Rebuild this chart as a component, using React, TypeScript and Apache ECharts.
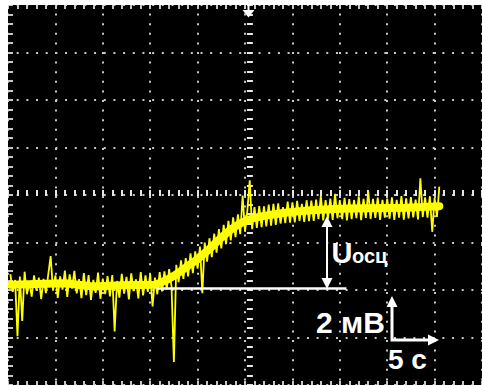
import React, { useEffect, useRef } from "react";
import * as echarts from "echarts";

// Oscilloscope screen: 10 horizontal divisions of 5 s, 8 vertical divisions of 2 mV
const timeMin = 0;
const timeMax = 50;
const timeInterval = 5;
const voltMin = -8;
const voltMax = 8;
const voltInterval = 2;

// Smoothed core of the yellow trace (s, mV)
const trendTimes = [0.3, 3, 6, 9, 12, 15.5, 16, 16.5, 17, 17.5, 18, 18.5, 19, 19.5, 20, 20.5, 21, 21.5, 22, 22.5, 23, 23.5, 24, 24.5, 25, 25.5, 26, 27, 28, 29, 30, 32, 34, 36, 38, 40, 42, 44, 45.5];
const trendValues = [-3.78, -3.75, -3.72, -3.85, -3.8, -3.78, -3.7, -3.62, -3.52, -3.4, -3.27, -3.13, -2.98, -2.84, -2.7, -2.53, -2.36, -2.17, -1.98, -1.8, -1.62, -1.46, -1.32, -1.2, -1.1, -1.02, -0.96, -0.88, -0.82, -0.76, -0.71, -0.64, -0.6, -0.57, -0.56, -0.55, -0.54, -0.5, -0.47];

// Raw noisy samples, one every 0.25 s starting at 0.25 s (mV)
const sampleStep = 0.25;
const traceValues = [
  -3.33, -4.08, -3.58, -5.95, -3.43, -5.3, -3.23, -4.18,
  -3.68, -4.28, -3.38, -4.03, -3.48, -4.38, -3.53, -4.13,
  -3.33, -2.57, -4.03, -3.38, -4.33, -3.43, -3.98, -3.18,
  -4.29, -3.34, -3.94, -3.19, -4.14, -3.54, -4.34, -3.29,
  -4.22, -3.37, -4.42, -3.57, -4.12, -3.27, -4.37, -3.52,
  -4.17, -3.42, -4.27, -3.37, -5.75, -3.62, -4.32, -3.32,
  -4.15, -3.45, -4.4, -3.3, -4.05, -3.55, -4.35, -3.25,
  -4.23, -3.38, -4.08, -3.33, -4.69, -3.48, -4.18, -3.25,
  -4.06, -3.22, -3.97, -3.12, -3.86, -7.03, -2.94, -3.67,
  -2.75, -3.53, -2.66, -3.43, -2.46, -3.29, -2.37, -3.1,
  -2.17, -4.14, -2.0, -2.81, -1.82, -2.62, -1.63, -2.43,
  -1.44, -2.25, -1.26, -2.07, -1.09, -1.91, -0.94, -1.77,
  -0.81, -1.65, -0.02, -1.55, -0.66, 0.62, -1.44, -0.51,
  -1.39, -0.47, -1.35, -0.48, -1.32, -0.4, -1.29, -0.37,
  -1.26, -0.35, -1.2, -0.51, -1.18, -0.28, -1.16, -0.31,
  -1.15, -0.25, -1.09, -0.37, -1.13, -0.22, -1.1, -0.24,
  -1.09, -0.19, -1.02, -0.05, -1.07, -0.22, -1.0, -0.15,
  -1.05, 0.05, -0.98, -0.22, -1.02, -0.12, -1.07, -0.17,
  -1.02, -0.21, -0.97, -0.06, -1.06, -0.16, -0.96, 0.15,
  -1.01, -0.16, -0.96, -0.11, -1.05, -0.2, -0.95, -0.15,
  -1.0, -0.1, -1.05, -0.2, -0.95, -0.05, -1.04, -0.14,
  -0.99, -0.09, -0.94, -0.19, -1.03, 0.7, -0.92, -0.1,
  -0.95, -0.05, -1.55, -0.12, -0.92, 0.35,
];

// Reference level line (baseline) and its extent
const baselineLevel = -3.92;
const baselineStart = 15.65;
const baselineEnd = 35.7;

const texts = { u: "U", sub: "осц", volt: "2 мВ", time: "5 с" };

const CHART_X = 8;
const CHART_Y = 5;
const p = (x: number, y: number) => [x - CHART_X, y - CHART_Y];

const FONT = '"Liberation Sans", Arial, sans-serif';
const WHITE = "#ffffff";
const DOT = "#c8c8c8";
const TICK = "#e6e6e6";

function seg(x1: number, y1: number, x2: number, y2: number, w: number) {
  const a = p(x1, y1);
  const b = p(x2, y2);
  return { type: "line", z: 100, silent: true, shape: { x1: a[0], y1: a[1], x2: b[0], y2: b[1] }, style: { stroke: WHITE, lineWidth: w } };
}
function tri(pts: number[][]) {
  return { type: "polygon", z: 100, silent: true, shape: { points: pts.map((q) => p(q[0], q[1])) }, style: { fill: WHITE } };
}
function txt(s: string, x: number, y: number, size: number) {
  const a = p(x, y);
  return {
    type: "text", z: 100, silent: true, x: a[0], y: a[1],
    style: { text: s, fill: WHITE, fontSize: size, fontWeight: "bold", fontFamily: FONT, align: "left", verticalAlign: "middle" },
  };
}

export default function App() {
  const ref = useRef<HTMLDivElement>(null);
  useEffect(() => {
    if (!ref.current) return;
    const chart = echarts.init(ref.current, undefined, { renderer: "svg" });
    const base = {
      type: "value",
      axisLabel: { show: false },
      axisLine: { show: false, onZero: false },
      splitLine: { show: false },
    };
    const edgeTicks = (len: number, color: string) => ({
      axisTick: { show: true, inside: true, length: len, lineStyle: { color, width: 2 } },
      minorTick: { show: true, splitNumber: 5, length: len, lineStyle: { color, width: 2 } },
    });
    const xr = { min: timeMin, max: timeMax, interval: timeInterval };
    const yr = { min: voltMin, max: voltMax, interval: voltInterval };
    const trendData = trendTimes.map((t, i) => [t, trendValues[i]]);
    const sampleData = traceValues.map((v, i) => [(i + 1) * sampleStep, v]);

    chart.setOption({
      animation: false,
      backgroundColor: "transparent",
      grid: { left: -1.4, top: -2, right: -8.35, bottom: -2, containLabel: false },
      xAxis: [
        {
          ...base, ...xr, position: "bottom",
          splitLine: { show: true, lineStyle: { color: DOT, width: 2, type: [2, 7.6], dashOffset: 1 } },
          ...edgeTicks(4, DOT),
        },
        { ...base, ...xr, position: "top", ...edgeTicks(4, DOT) },
        { ...base, ...xr, position: "bottom", offset: -189, ...edgeTicks(6, TICK) },
      ],
      yAxis: [
        {
          ...base, ...yr, position: "left",
          splitLine: { show: true, lineStyle: { color: DOT, width: 2, type: [2, 7.675], dashOffset: 1 } },
          ...edgeTicks(5, DOT),
        },
        { ...base, ...yr, position: "left", offset: -238.9, ...edgeTicks(6, TICK) },
      ],
      series: [
        {
          type: "line", name: "trend", xAxisIndex: 0, yAxisIndex: 0, data: trendData, symbol: "none", silent: true, z: 3,
          lineStyle: { color: "#ffff00", width: 8, join: "round", cap: "round" },
        },
        {
          type: "line", name: "signal", xAxisIndex: 0, yAxisIndex: 0, data: sampleData, symbol: "none", silent: true, z: 4,
          lineStyle: { color: "#ffff00", width: 1.8 },
          markLine: {
            silent: true, symbol: ["none", "none"], label: { show: false },
            lineStyle: { color: WHITE, width: 2.5, type: "solid" },
            data: [[{ coord: [baselineStart, baselineLevel] }, { coord: [baselineEnd, baselineLevel] }]],
          },
        },
      ],
      graphic: [
        // trigger marker at top
        seg(248.5, 0, 248.5, 11, 2),
        tri([[242.5, 10], [254.5, 10], [248.5, 17.5]]),
        // U double arrow
        seg(327, 225, 327, 280, 2),
        tri([[327, 216], [321.5, 227], [332.5, 227]]),
        tri([[327, 289], [321.5, 278], [332.5, 278]]),
        txt(texts.u, 331.5, 252.6, 29),
        txt(texts.sub, 352, 256.1, 20),
        // scale bar
        {
          type: "polyline", z: 100, silent: true,
          shape: { points: [p(392, 305), p(392, 340), p(430, 340)] },
          style: { stroke: WHITE, lineWidth: 3, lineJoin: "miter", fill: null },
        },
        tri([[392, 296], [386.5, 307], [397.5, 307]]),
        tri([[439, 340], [428, 334.5], [428, 345.5]]),
        txt(texts.volt, 316, 322.9, 30),
        txt(texts.time, 388, 359.6, 28),
      ],
    });
    return () => chart.dispose();
  }, []);

  return (
    <div style={{ position: "fixed", left: 0, top: 0, width: 482, height: 385, background: "#ffffff", overflow: "hidden" }}>
      <div
        ref={ref}
        style={{ position: "absolute", left: CHART_X, top: CHART_Y, width: 474, height: 380, background: "#000000", overflow: "hidden" }}
      />
    </div>
  );
}
